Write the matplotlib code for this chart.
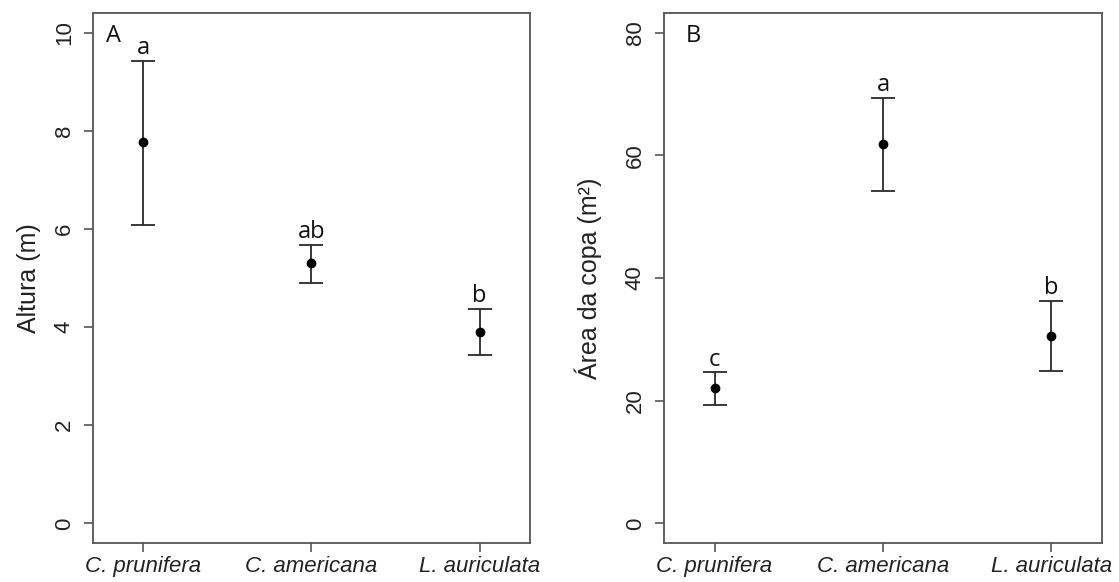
import matplotlib.pyplot as plt

species = ['C. prunifera', 'C. americana', 'L. auriculata']

# painel A - altura (m)
altura = [7.77, 5.30, 3.90]
altura_sup = [9.42, 5.68, 4.37]
altura_inf = [6.08, 4.90, 3.43]
letras_a = ['a', 'ab', 'b']

# painel B - area da copa (m2)
copa = [22.0, 61.9, 30.6]
copa_sup = [24.6, 69.3, 36.2]
copa_inf = [19.3, 54.2, 24.8]
letras_b = ['c', 'a', 'b']

plt.rcParams['font.family'] = ['Liberation Sans', 'DejaVu Sans']

fig = plt.figure(figsize=(11.19, 5.82), dpi=100)
axA = fig.add_axes([0.0831, 0.067, 0.3905, 0.9107])
axB = fig.add_axes([0.5934, 0.067, 0.3914, 0.9107])

edge = '#555555'


def painel(ax, media, sup, inf, letras, ylim, yticks, ylabel, tag, tagx, labx):
    x = [1, 2, 3]
    err = [[m - l for m, l in zip(media, inf)], [s - m for m, s in zip(media, sup)]]
    ax.errorbar(x, media, yerr=err, fmt='o', color='black', ecolor='#2a2a2a',
                markersize=6, capsize=8.3, elinewidth=1.3, capthick=1.3)
    for xi, s, t in zip(x, sup, letras):
        ax.annotate(t, (xi, s), xytext=(0, 5), textcoords='offset points',
                    ha='center', va='baseline', fontsize=17,
                    family='Open Sans', color='#111111')
    ax.text(tagx, 0.979, tag, transform=ax.transAxes, ha='left', va='top',
            fontsize=17, family='Open Sans', color='#111111')
    ax.set_xlim(0.7, 3.3)
    ax.set_ylim(*ylim)
    ax.set_yticks(yticks)
    ax.set_yticklabels([str(v) for v in yticks], rotation=90, va='center')
    ax.set_xticks(x)
    ax.set_xticklabels(species, style='italic')
    ax.set_ylabel(ylabel, fontsize=18, color='#222222')
    ax.yaxis.set_label_coords(labx, 0.5)
    ax.tick_params(labelsize=16, length=6.5, width=1.2, color=edge,
                   labelcolor='#222222')
    ax.tick_params(axis='y', pad=6.5)
    ax.tick_params(axis='x', pad=3)
    for sp in ax.spines.values():
        sp.set_color(edge)
        sp.set_linewidth(1.3)


painel(axA, altura, altura_sup, altura_inf, letras_a, (-0.4, 10.4),
       [0, 2, 4, 6, 8, 10], 'Altura (m)', 'A', 0.03, -0.119)
painel(axB, copa, copa_sup, copa_inf, letras_b, (-3.2, 83.2),
       [0, 20, 40, 60, 80], 'Área da copa (m²)', 'B', 0.05, -0.1416)

fig.savefig('out.png', dpi=100)
